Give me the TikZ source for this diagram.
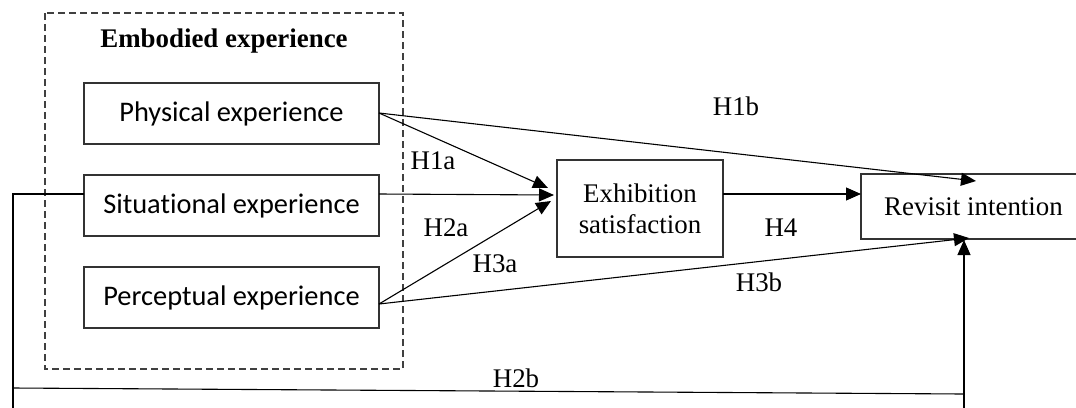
\documentclass[tikz,border=0pt]{standalone}
\usepackage{fontspec}
\setmainfont{Liberation Serif}
\newfontfamily\carlfont[Ligatures=NoCommon]{Carlito}
\usetikzlibrary{arrows.meta}
\tikzset{
  conn/.style={line width=1.1bp, draw=black},
  arr/.style={conn, -{Triangle[length=15bp,width=13bp]}},
  boxA/.style={draw=black!80, line width=1.1bp, minimum width=295bp, minimum height=61bp, inner sep=0pt,
               font=\carlfont\fontsize{28.5}{30}\selectfont},
  boxB/.style={draw=black!80, line width=1.1bp, inner sep=0pt, align=center,
               font=\fontsize{27}{31}\selectfont},
  lab/.style={inner sep=0pt, font=\fontsize{27}{30}\selectfont}
}
\begin{document}
\begin{tikzpicture}[x=1bp,y=-1bp]
\useasboundingbox (0,0) rectangle (1076,407);
% dashed group
\draw[draw=black!75, line width=1.1bp, dash pattern=on 7bp off 4bp] (45,13) rectangle (403,369);
\node[inner sep=0pt, font=\bfseries\fontsize{27}{30}\selectfont] (title) at (224,41) {Embodied experience};
% boxes
\node[boxA] (phys) at (231.5,113.5) {Physical experience};
\node[boxA] (sit)  at (231.5,205.5) {Situational experience};
\node[boxA] (perc) at (231.5,297.5) {Perceptual experience};
\node[boxB, minimum width=166bp, minimum height=97bp] (exh) at (640,208.5) {Exhibition\\satisfaction};
\node[boxB, minimum width=225bp, minimum height=65bp] (rev) at (973.5,206.5) {Revisit intention};
% coordinates
\coordinate (pE) at (379,113);
\coordinate (sE) at (379,194);
\coordinate (sW) at (84,194);
\coordinate (qE) at (379,304);
\coordinate (t1a) at (548,188);
\coordinate (t2a) at (554,195);
\coordinate (t3a) at (551,201);
\coordinate (t1b) at (976,181);
\coordinate (t3b) at (969,238);
\coordinate (t2b) at (964,240);
\coordinate (xE) at (723,194);
\coordinate (rW) at (861,194);
\coordinate (lc) at (13,194);
\coordinate (lb) at (13,410);
\coordinate (hL) at (13,388);
\coordinate (hR) at (964,394);
\coordinate (vb) at (964,410);
% connectors
\draw[arr] (pE) -- (t1a);
\draw[arr] (sE) -- (t2a);
\draw[arr] (qE) -- (t3a);
\draw[arr] (pE) -- (t1b);
\draw[arr] (qE) -- (t3b);
\draw[arr] (xE) -- (rW);
\draw[conn] (sW) -- (lc) -- (lb);
\draw[conn] (hL) -- (hR);
\draw[arr] (vb) -- (t2b);
% labels
\node[lab] (h1a) at (433,161) {H1a};
\node[lab] (h2a) at (446,228) {H2a};
\node[lab] (h3a) at (495,264) {H3a};
\node[lab] (h1b) at (736,106) {H1b};
\node[lab] (h4)  at (781,228) {H4};
\node[lab] (h3b) at (759,282) {H3b};
\node[lab] (h2b) at (516,378) {H2b};
\end{tikzpicture}
\end{document}
